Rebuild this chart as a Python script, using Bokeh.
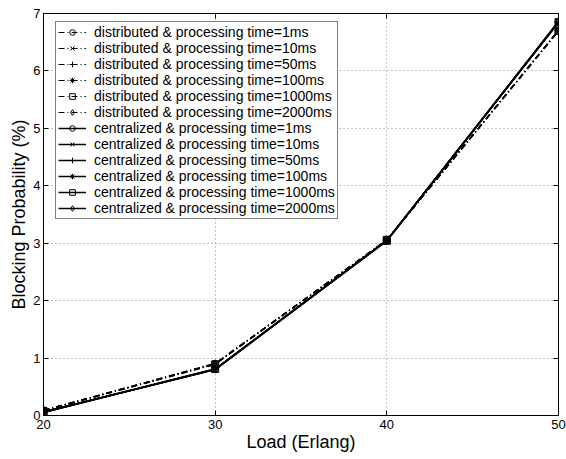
from bokeh.plotting import figure
from bokeh.models import LinearAxis, FixedTicker, Range1d, Legend
from bokeh.embed import file_html
from bokeh.resources import INLINE

load = [20, 30, 40, 50]
labels_dist = ["distributed & processing time=1ms", "distributed & processing time=10ms",
               "distributed & processing time=50ms", "distributed & processing time=100ms",
               "distributed & processing time=1000ms", "distributed & processing time=2000ms"]
labels_cent = ["centralized & processing time=1ms", "centralized & processing time=10ms",
               "centralized & processing time=50ms", "centralized & processing time=100ms",
               "centralized & processing time=1000ms", "centralized & processing time=2000ms"]
markers = ["circle", "x", "cross", "asterisk", "square", "diamond"]

dist_1 = [0.09, 0.90, 3.06, 6.70]
dist_10 = [0.09, 0.89, 3.05, 6.70]
dist_50 = [0.08, 0.90, 3.06, 6.71]
dist_100 = [0.09, 0.91, 3.05, 6.69]
dist_1000 = [0.08, 0.89, 3.06, 6.70]
dist_2000 = [0.09, 0.90, 3.05, 6.71]
cent_1 = [0.06, 0.81, 3.05, 6.85]
cent_10 = [0.06, 0.80, 3.04, 6.85]
cent_50 = [0.05, 0.81, 3.05, 6.86]
cent_100 = [0.06, 0.80, 3.05, 6.84]
cent_1000 = [0.05, 0.81, 3.04, 6.85]
cent_2000 = [0.06, 0.80, 3.05, 6.86]
dist_series = [dist_1, dist_10, dist_50, dist_100, dist_1000, dist_2000]
cent_series = [cent_1, cent_10, cent_50, cent_100, cent_1000, cent_2000]

x_ticks = [20, 30, 40, 50]
y_ticks = [0, 1, 2, 3, 4, 5, 6, 7]

FONT = "Liberation Sans"

p = figure(width=566, height=459, output_backend="svg", toolbar_location=None,
           x_range=Range1d(20, 50), y_range=Range1d(0, 7),
           min_border_left=43, min_border_right=8, min_border_top=13, min_border_bottom=44,
           background_fill_color="white", border_fill_color="white")
p.outline_line_color = "black"
p.outline_line_width = 1

for ax in (p.xaxis[0], p.yaxis[0]):
    ax.major_tick_in = 5
    ax.major_tick_out = 0
    ax.minor_tick_in = 0
    ax.minor_tick_out = 0
    ax.axis_line_color = "black"
    ax.major_tick_line_color = "black"
    ax.major_label_text_font = FONT
    ax.major_label_text_font_size = "13px"
    ax.major_label_text_line_height = 1.0
    ax.major_label_text_color = "black"
    ax.axis_label_text_font = FONT
    ax.axis_label_text_font_size = "18px"
    ax.axis_label_text_line_height = 1.0
    ax.axis_label_text_font_style = "normal"
    ax.axis_label_text_color = "black"
    ax.major_label_standoff = 4
    ax.axis_label_standoff = 0
p.xaxis[0].ticker = FixedTicker(ticks=x_ticks)
p.yaxis[0].ticker = FixedTicker(ticks=y_ticks)
p.xaxis[0].axis_label = "Load (Erlang)"
p.yaxis[0].axis_label = "Blocking Probability (%)"
p.yaxis[0].major_label_standoff = 3
p.yaxis[0].axis_label_standoff = 1

for loc, tk in (("above", x_ticks), ("right", y_ticks)):
    ax = LinearAxis(ticker=FixedTicker(ticks=tk))
    ax.major_tick_in = 5
    ax.major_tick_out = 0
    ax.minor_tick_in = 0
    ax.minor_tick_out = 0
    ax.major_label_overrides = {t: "" for t in tk}
    ax.major_label_text_font_size = "1px"
    ax.major_label_standoff = 0
    ax.axis_line_color = "black"
    p.add_layout(ax, loc)

for g in (p.xgrid[0], p.ygrid[0]):
    g.grid_line_color = "#888888"
    g.grid_line_dash = "1 3"
    g.grid_line_width = 1
p.xgrid[0].ticker = FixedTicker(ticks=x_ticks)
p.ygrid[0].ticker = FixedTicker(ticks=y_ticks)

items = []
for vals, lab, mk in zip(dist_series, labels_dist, markers):
    r1 = p.line(load, vals, line_color="black", line_width=1.2, line_dash="6 3 1 3")
    r2 = p.scatter(load, vals, marker=mk, size=7, line_color="black", fill_alpha=0, line_width=1)
    items.append((lab, [r1, r2]))
for vals, lab, mk in zip(cent_series, labels_cent, markers):
    r1 = p.line(load, vals, line_color="black", line_width=1.5)
    r2 = p.scatter(load, vals, marker=mk, size=7, line_color="black", fill_alpha=0, line_width=1)
    items.append((lab, [r1, r2]))

leg = Legend(items=items, location=(12, 196))
leg.margin = 0
leg.padding = 2
leg.spacing = 0
leg.label_height = 14
leg.glyph_height = 14
leg.glyph_width = 28
leg.label_standoff = 8
leg.label_text_font = FONT
leg.label_text_font_size = "14px"
leg.label_text_line_height = 0.8
leg.label_text_color = "black"
leg.border_line_color = "black"
leg.border_line_width = 1
leg.background_fill_color = "white"
leg.background_fill_alpha = 1
p.add_layout(leg)

open("out.html", "w").write(file_html(p, INLINE))
